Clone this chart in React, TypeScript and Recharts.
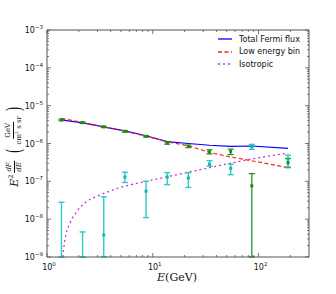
import { ComposedChart, Line, Scatter, ErrorBar, XAxis, YAxis } from "recharts";

// energy bins (GeV)
const energies = [1.37, 2.17, 3.44, 5.45, 8.64, 13.7, 21.7, 34.4, 54.5, 86.4, 190];

const totalFlux = [4.2e-6, 3.5e-6, 2.75e-6, 2.15e-6, 1.6e-6, 1.12e-6, 1.0e-6, 9.0e-7, 8.4e-7, 8.6e-7, 7.4e-7];
const lowBinFit = [4.6e-6, 3.6e-6, 2.75e-6, 2.1e-6, 1.55e-6, 1.12e-6, 8.7e-7, 5.8e-7, 4.4e-7, 3.5e-7, 2.3e-7];

const greenY = [4.2e-6, 3.55e-6, 2.75e-6, 2.1e-6, 1.55e-6, 1.03e-6, 8.4e-7, 6.0e-7, 6.2e-7, 7.6e-8, 3.1e-7];
const greenLow = [4.0e-6, 3.4e-6, 2.65e-6, 2.0e-6, 1.48e-6, 9.6e-7, 7.8e-7, 5.3e-7, 5.1e-7, 1e-9, 2.3e-7];
const greenHigh = [4.4e-6, 3.7e-6, 2.85e-6, 2.2e-6, 1.62e-6, 1.1e-6, 9.1e-7, 6.8e-7, 7.1e-7, 1.6e-7, 4.0e-7];

const cyanY = [5e-10, 4e-10, 3.8e-9, 1.3e-7, 5.5e-8, 1.3e-7, 1.23e-7, 2.85e-7, 2.2e-7, 8.2e-7, 3.9e-7];
const cyanLow = [1e-9, 1e-9, 1e-9, 9.3e-8, 1.1e-8, 8.2e-8, 6.9e-8, 2.5e-7, 1.5e-7, 7e-7, 2.4e-7];
const cyanHigh = [2.8e-8, 4.6e-9, 3.9e-8, 1.74e-7, 1.0e-7, 1.7e-7, 1.7e-7, 3.5e-7, 2.85e-7, 9.5e-7, 4.9e-7];

const isoE = [1.41, 1.45, 1.52, 1.64, 1.9, 2.36, 3.15, 4.53, 8.7, 13.4, 22.3, 34.5, 82, 190];
const isoFlux = [1.0e-9, 2.0e-9, 4.2e-9, 7.7e-9, 1.56e-8, 2.9e-8, 4.3e-8, 6.4e-8, 1.0e-7, 1.3e-7, 1.78e-7, 2.3e-7, 3.8e-7, 5.6e-7];

const xTicks = [1, 2, 3, 4, 5, 6, 7, 8, 9, 10, 20, 30, 40, 50, 60, 70, 80, 90, 100, 200];
const yTicks = [-9, -8, -7, -6, -5, -4, -3].flatMap((e) =>
  e === -3 ? [1e-3] : [1, 2, 3, 4, 5, 6, 7, 8, 9].map((k) => k * Math.pow(10, e))
);

const legendItems = [
  { label: "Total Fermi flux", color: "#0000ff", dash: "" },
  { label: "Low energy bin", color: "#ff2020", dash: "4 2.5" },
  { label: "Isotropic", color: "#cc33cc", dash: "2 3" },
];

const line = (ys: number[], xs: number[]) => xs.map((x, i) => ({ x, y: ys[i] }));
const points = (ys: number[], lo: number[], hi: number[]) =>
  energies.map((x, i) => ({ x, y: ys[i], err: [ys[i] - lo[i], hi[i] - ys[i]] }));

const AXIS = "#555";
const FONT = "'DejaVu Sans', sans-serif";

const sup = (v: number) => {
  const e = Math.round(Math.log10(v));
  return e < 0 ? "\u2212" + -e : String(e);
};
const isMajor = (v: number) => Math.abs(Math.log10(v) - Math.round(Math.log10(v))) < 1e-6;

const makeTick = (side: "bottom" | "top" | "left" | "right") => (props: any) => {
  const { x, y, payload } = props;
  const v = payload.value;
  const major = isMajor(v);
  const len = major ? 4 : 2;
  let x2 = x, y2 = y;
  if (side === "bottom") y2 = y - len;
  if (side === "top") y2 = y + len;
  if (side === "left") x2 = x + len;
  if (side === "right") x2 = x - len;
  return (
    <g>
      <line x1={x} y1={y} x2={x2} y2={y2} stroke={AXIS} strokeWidth={0.8} />
      {major && side === "bottom" && (
        <text x={x + 2} y={y + 13} textAnchor="middle" fontSize={8} fontFamily={FONT} fill="#111">
          <tspan>10</tspan>
          <tspan dy={-4} fontSize={5.5}>{sup(v)}</tspan>
        </text>
      )}
      {major && side === "left" && (
        <text x={x - 4} y={y + 3} textAnchor="end" fontSize={8} fontFamily={FONT} fill="#111">
          <tspan>10</tspan>
          <tspan dy={-4} fontSize={5.5}>{sup(v)}</tspan>
        </text>
      )}
    </g>
  );
};

const Square = (color: string) => (props: any) => {
  const { cx, cy } = props;
  if (cy == null || cy > 257) return <g />;
  return <rect x={cx - 1.5} y={cy - 1.5} width={3} height={3} fill={color} />;
};

const Frac = ({ top, bottom, size }: { top: any; bottom: any; size: number }) => (
  <span style={{ display: "inline-flex", flexDirection: "column", alignItems: "center", fontSize: size, lineHeight: 1, margin: "0 2px" }}>
    <span style={{ borderBottom: "0.8px solid #111", padding: "0 1px 1px" }}>{top}</span>
    <span style={{ paddingTop: 1 }}>{bottom}</span>
  </span>
);

export default function App() {
  const serif = "'DejaVu Serif', 'Liberation Serif', serif";
  return (
    <div style={{ position: "absolute", left: 0, top: 0, width: 336, height: 294, background: "#fff" }}>
      <ComposedChart width={336} height={294} margin={{ top: 29, right: 26, bottom: 36, left: 46 }}>
        <XAxis xAxisId="b" dataKey="x" type="number" scale="log" domain={[1, 300]} allowDataOverflow
          ticks={xTicks} interval={0} height={1} tickSize={0} tickMargin={0} tickLine={false}
          axisLine={{ stroke: AXIS }} tick={makeTick("bottom")} />
        <XAxis xAxisId="t" orientation="top" dataKey="x" type="number" scale="log" domain={[1, 300]} allowDataOverflow
          ticks={xTicks} interval={0} height={1} tickSize={0} tickMargin={0} tickLine={false}
          axisLine={{ stroke: AXIS }} tick={makeTick("top")} />
        <YAxis yAxisId="l" type="number" scale="log" domain={[1e-9, 1e-3]} allowDataOverflow
          ticks={yTicks} interval={0} width={1} tickSize={0} tickMargin={0} tickLine={false}
          axisLine={{ stroke: AXIS }} tick={makeTick("left")} />
        <YAxis yAxisId="r" orientation="right" type="number" scale="log" domain={[1e-9, 1e-3]} allowDataOverflow
          ticks={yTicks} interval={0} width={1} tickSize={0} tickMargin={0} tickLine={false}
          axisLine={{ stroke: AXIS }} tick={makeTick("right")} />

        <Line xAxisId="b" yAxisId="l" data={line(isoFlux, isoE)} dataKey="y" type="monotone"
          stroke="#cc33cc" strokeWidth={1.3} strokeDasharray="2 3" dot={false} isAnimationActive={false} />
        <Line xAxisId="b" yAxisId="l" data={line(totalFlux, energies)} dataKey="y" type="linear"
          stroke="#0000ff" strokeWidth={1.2} dot={false} isAnimationActive={false} />
        <Line xAxisId="b" yAxisId="l" data={line(lowBinFit, energies)} dataKey="y" type="linear"
          stroke="#ff2020" strokeWidth={1.2} strokeDasharray="4 2.5" dot={false} isAnimationActive={false} />

        <Scatter xAxisId="b" yAxisId="l" data={points(greenY, greenLow, greenHigh)} dataKey="y"
          shape={Square("#1a8a1a")} isAnimationActive={false}>
          <ErrorBar dataKey="err" direction="y" width={3} stroke="#1a8a1a" strokeWidth={1.2} />
        </Scatter>
        <Scatter xAxisId="b" yAxisId="l" data={points(cyanY, cyanLow, cyanHigh)} dataKey="y"
          shape={Square("#10b8b8")} isAnimationActive={false}>
          <ErrorBar dataKey="err" direction="y" width={3} stroke="#30c8c8" strokeWidth={1.4} />
        </Scatter>
      </ComposedChart>

      {/* legend */}
      <div style={{ position: "absolute", left: 218, top: 33, fontFamily: FONT, fontSize: 8, color: "#111" }}>
        {legendItems.map((it) => (
          <div key={it.label} style={{ display: "flex", alignItems: "center", height: 12.5 }}>
            <svg width={14} height={4} style={{ marginRight: 7 }}>
              <line x1={0} y1={2} x2={14} y2={2} stroke={it.color} strokeWidth={1.3} strokeDasharray={it.dash || undefined} />
            </svg>
            <span>{it.label}</span>
          </div>
        ))}
      </div>

      {/* y label */}
      <div style={{ position: "absolute", left: 14, top: 146, transform: "translate(-50%, -50%) rotate(-90deg)",
        whiteSpace: "nowrap", fontFamily: serif, fontSize: 11, color: "#111", display: "flex", alignItems: "center" }}>
        <span><i>E</i><sup style={{ fontSize: 6.5 }}>2</sup></span>
        <Frac top={<i>dF</i>} bottom={<i>dE</i>} size={7} />
        <span style={{ fontSize: 20, fontWeight: 100, margin: "0 1px 0 4px", display: "inline-block", transform: "scaleX(0.6)" }}>(</span>
        <Frac top="GeV" bottom={<span>cm<sup style={{ fontSize: 4.5 }}>2</sup> s sr</span>} size={7} />
        <span style={{ fontSize: 20, fontWeight: 100, margin: "0 0 0 1px", display: "inline-block", transform: "scaleX(0.6)" }}>)</span>
      </div>

      {/* x label */}
      <div style={{ position: "absolute", left: 177, top: 277, transform: "translate(-50%, -50%)", fontFamily: serif, fontSize: 11, color: "#111", whiteSpace: "nowrap" }}>
        <i>E</i>(GeV)
      </div>
    </div>
  );
}
